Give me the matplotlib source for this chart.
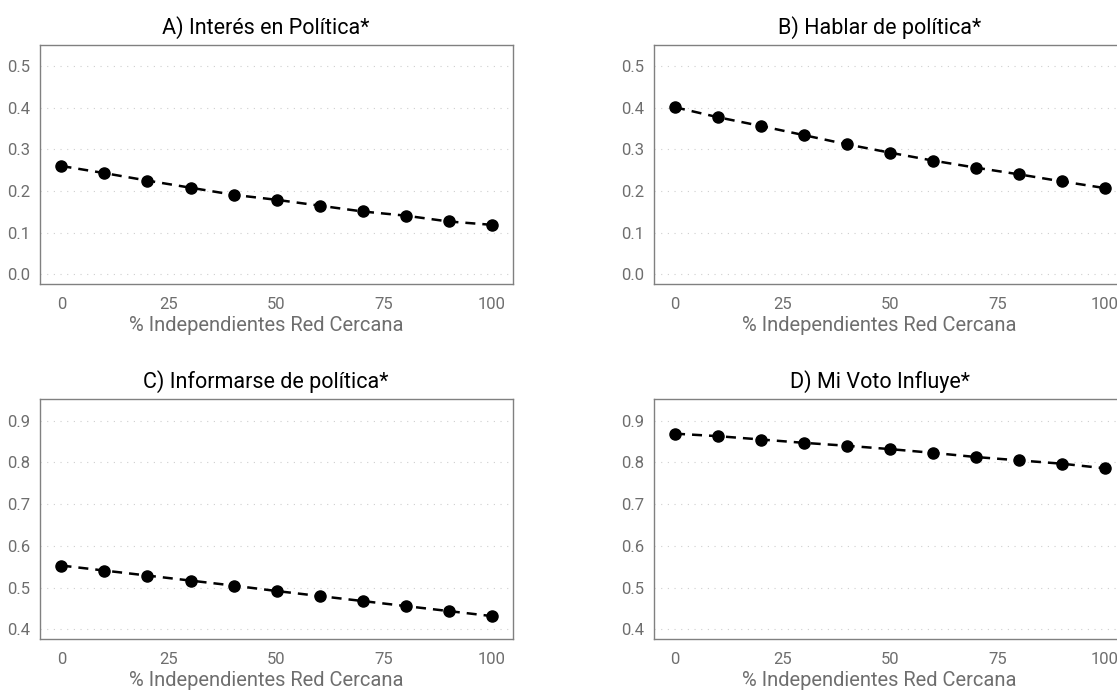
import matplotlib
matplotlib.use('Agg')
import matplotlib.pyplot as plt

# Data

x = [0, 10, 20, 30, 40, 50, 60, 70, 80, 90, 100]

interes = [0.260, 0.243, 0.225, 0.208, 0.191, 0.179, 0.165, 0.151, 0.141, 0.127, 0.119]
hablar = [0.401, 0.377, 0.356, 0.334, 0.312, 0.292, 0.273, 0.256, 0.240, 0.223, 0.207]
informarse = [0.553, 0.541, 0.529, 0.517, 0.505, 0.492, 0.480, 0.468, 0.456, 0.444, 0.432]
voto = [0.869, 0.863, 0.855, 0.847, 0.840, 0.832, 0.823, 0.813, 0.805, 0.797, 0.786]

titles = ["A) Interés en Política*", "B) Hablar de política*",
          "C) Informarse de política*", "D) Mi Voto Influye*"]
xticks = [0, 25, 50, 75, 100]
yticks_top = [0.0, 0.1, 0.2, 0.3, 0.4, 0.5]
yticks_bottom = [0.4, 0.5, 0.6, 0.7, 0.8, 0.9]
xlabel = "% Independientes Red Cercana"

plt.rcParams['font.family'] = ['Roboto', 'DejaVu Sans']

fig = plt.figure(figsize=(11.17, 6.9), dpi=100)

# panel boxes in figure fraction (right column runs past the edge, as in the reference)
positions = [
    [0.0358, 0.5884, 0.4235, 0.3468],
    [0.5851, 0.5884, 0.4235, 0.3468],
    [0.0358, 0.0739, 0.4235, 0.3478],
    [0.5851, 0.0739, 0.4235, 0.3478],
]
series = [interes, hablar, informarse, voto]
ylims = [(-0.023, 0.551), (-0.023, 0.551), (0.377, 0.952), (0.377, 0.952)]
yticks = [yticks_top, yticks_top, yticks_bottom, yticks_bottom]

grey = '#6e6e6e'

for pos, y, title, yl, yt in zip(positions, series, titles, ylims, yticks):
    ax = fig.add_axes(pos)
    ax.plot(x, y, color='black', linewidth=1.8, linestyle=(0, (4.0, 2.8)),
            marker='o', markersize=8, zorder=3)
    ax.set_xlim(-5, 105)
    ax.set_ylim(*yl)
    ax.set_xticks(xticks)
    ax.set_yticks(yt)
    ax.set_yticklabels([f"{v:.1f}" for v in yt])
    ax.tick_params(length=0, labelsize=12, labelcolor=grey)
    ax.tick_params(axis='x', pad=9)
    ax.tick_params(axis='y', pad=7)
    ax.grid(True, axis='y', color='#cfcfcf', linewidth=0.8, linestyle=(0, (1, 5)))
    ax.grid(False, axis='x')
    for s in ax.spines.values():
        s.set_color('#808080')
        s.set_linewidth(1.0)
    ax.set_title(title, fontsize=15.5, color='black', x=0.478, pad=8)
    ax.set_xlabel(xlabel, fontsize=14.5, color=grey)
    ax.xaxis.set_label_coords(0.478, -0.135)

fig.savefig("out.png", dpi=100, facecolor='white')
